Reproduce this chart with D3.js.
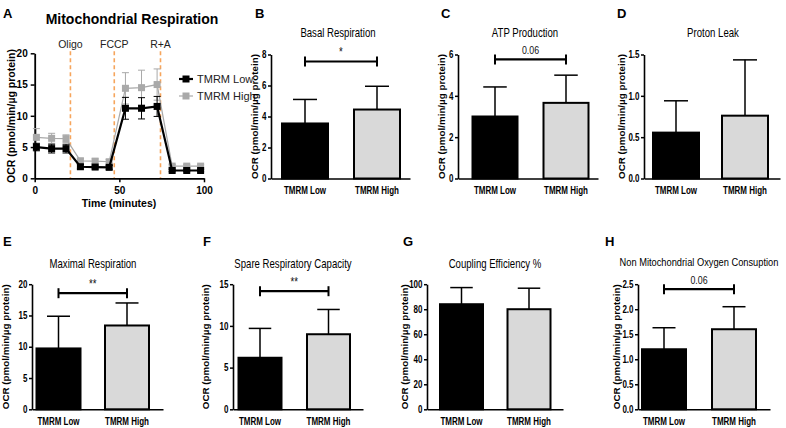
<!DOCTYPE html>
<html><head><meta charset="utf-8">
<script src="https://cdn.jsdelivr.net/npm/d3@7/dist/d3.min.js"></script>
<style>
body{margin:0;background:#fff;}
svg{display:block;}
.nar,.reg{font-family:"Liberation Sans",Arial,sans-serif;}
</style></head><body>
<svg id="c" width="786" height="428"></svg>
<script>
// ---------- Data ----------
const times = [1, 10, 18.5, 27, 35.7, 44, 53.6, 63.1, 72.3, 81.2, 89.8, 98];
const lowMean  = [5.0, 4.75, 4.75, 1.85, 1.8, 1.75, 11.2, 11.2, 11.5, 1.25, 1.25, 1.25];
const lowSD    = [0.6, 0.7, 0.7, 0.35, 0.3, 0.3, 1.75, 1.7, 1.6, 0.2, 0.2, 0.2];
const highMean = [6.55, 6.4, 6.35, 2.8, 2.75, 2.65, 14.4, 14.5, 15.0, 1.95, 1.95, 1.95];
const highSD   = [1.4, 0.8, 0.6, 0.4, 0.35, 0.35, 2.5, 2.8, 2.5, 0.25, 0.25, 0.25];
const injections = ["Oligo", "FCCP", "R+A"];
const injectionTimes = [21.1, 47, 74.3];
const timeTicks = [0, 50, 100];
const ocrTicks = [0, 5, 10, 15, 20];

const groups = ["TMRM Low", "TMRM High"];
const basalMean = [3.55, 4.45],  basalSD = [1.55, 1.5];
const atpMean = [3.0, 3.66],     atpSD = [1.43, 1.34];
const leakMean = [0.555, 0.76],  leakSD = [0.385, 0.675];
const maxMean = [9.73, 13.4],    maxSD = [5.15, 3.6];
const spareMean = [6.18, 9.0],   spareSD = [3.52, 2.97];
const couplingMean = [84, 80],   couplingSD = [13.3, 16.8];
const nonMitoMean = [1.2, 1.6],  nonMitoSD = [0.43, 0.45];

const basalTicks = [0, 2, 4, 6, 8];
const atpTicks = [0, 2, 4, 6];
const leakTicks = [0, 0.5, 1.0, 1.5];
const maxTicks = [0, 5, 10, 15, 20];
const spareTicks = [0, 5, 10, 15];
const couplingTicks = [0, 20, 40, 60, 80, 100];
const nonMitoTicks = [0, 0.5, 1.0, 1.5, 2.0, 2.5];

const basalSig = {label: "*", y: 7.55};
const atpSig = {label: "0.06", y: 5.76};
const maxSig = {label: "**", y: 18.56};
const spareSig = {label: "**", y: 14.16};
const nonMitoSig = {label: "0.06", y: 2.4};

const yLabel = "OCR (pmol/min/\u00b5g protein)";

// ---------- Drawing ----------
const svg = d3.select("#c");
// horizontally condense text about its anchor x (narrow-font look)
function condense(sel, k){
  sel.each(function(){
    const ax = +(this.getAttribute("x") || 0);
    d3.select(this).attr("transform", `translate(${ax*(1-k)},0) scale(${k},1)`);
  });
}

// Panel A
(function(){
  const g = svg.append("g");
  const x = d3.scaleLinear().domain([0, 100]).range([34.7, 204]);
  const y = d3.scaleLinear().domain([0, 20]).range([178.3, 53.3]);
  g.append("text").attr("class","reg").attr("x",3).attr("y",18).attr("font-size",13).attr("font-weight","bold").text("A");
  g.append("text").attr("class","reg").attr("x",132).attr("y",24).attr("text-anchor","middle").attr("font-size",14).attr("font-weight","bold").text("Mitochondrial Respiration");
  injectionTimes.forEach((t,i)=>{
    g.append("line").attr("x1",x(t)).attr("x2",x(t)).attr("y1",y(20)-2).attr("y2",y(0))
      .attr("stroke","#f6a55c").attr("stroke-width",1.6).attr("stroke-dasharray","4,3");
    g.append("text").attr("class","reg").attr("x",x(t)).attr("y",48).attr("text-anchor","middle").attr("font-size",10.5).attr("fill","#222").text(injections[i]);
  });
  const ax = g.append("g").attr("transform",`translate(0,${y(0)})`)
    .call(d3.axisBottom(x).tickValues(timeTicks).tickSize(4).tickSizeOuter(0));
  const ay = g.append("g").attr("transform",`translate(${x(0)},0)`)
    .call(d3.axisLeft(y).tickValues(ocrTicks).tickSize(4).tickSizeOuter(0));
  [ax, ay].forEach(a=>{
    a.select(".domain").attr("stroke","#000").attr("stroke-width",1.8);
    a.selectAll(".tick line").attr("stroke","#000").attr("stroke-width",1.5);
    a.selectAll("text").attr("class","reg").attr("font-size",10).attr("font-weight","bold").attr("fill","#000");
  });
  ax.selectAll("text").attr("dy","0.9em");
  g.append("text").attr("class","reg").attr("x",119).attr("y",207).attr("text-anchor","middle").attr("font-size",10.5).attr("font-weight","bold").text("Time (minutes)");
  g.append("text").attr("class","reg").attr("transform","translate(15,116) rotate(-90)").attr("text-anchor","middle").attr("font-size",10.5).attr("font-weight","bold").text(yLabel);

  function series(mean, sd, color, lw, msize){
    const pts = times.map((t,i)=>({t, m:mean[i], s:sd[i]}));
    const eg = g.append("g");
    pts.forEach(p=>{
      eg.append("line").attr("x1",x(p.t)).attr("x2",x(p.t)).attr("y1",y(p.m-p.s)).attr("y2",y(p.m+p.s)).attr("stroke",color).attr("stroke-width",1);
      [p.m-p.s, p.m+p.s].forEach(v=>eg.append("line").attr("x1",x(p.t)-3.5).attr("x2",x(p.t)+3.5).attr("y1",y(v)).attr("y2",y(v)).attr("stroke",color).attr("stroke-width",1));
    });
    g.append("path").datum(pts).attr("fill","none").attr("stroke",color).attr("stroke-width",lw)
      .attr("d",d3.line().x(d=>x(d.t)).y(d=>y(d.m)));
    g.selectAll(null).data(pts).enter().append("rect")
      .attr("x",d=>x(d.t)-msize/2).attr("y",d=>y(d.m)-msize/2).attr("width",msize).attr("height",msize).attr("fill",color);
  }
  series(highMean, highSD, "#a9a9a9", 1.2, 7);
  series(lowMean, lowSD, "#000", 2.2, 7);
  const leg = [{n:groups[0], c:"#000", lw:2.2, y:79},{n:groups[1], c:"#a9a9a9", lw:1.2, y:96}];
  leg.forEach(l=>{
    g.append("line").attr("x1",179).attr("x2",193).attr("y1",l.y).attr("y2",l.y).attr("stroke",l.c).attr("stroke-width",l.lw);
    g.append("rect").attr("x",182.5).attr("y",l.y-3.5).attr("width",7).attr("height",7).attr("fill",l.c);
    g.append("text").attr("class","reg").attr("x",197).attr("y",l.y+4).attr("font-size",11).attr("fill","#222").text(l.n);
  });
})();

// Bar panels
function barPanel(o){
  const g = svg.append("g");
  const L = o.x1 - o.x0, step = o.c2 - o.c1, pi = 1 - o.bw/step;
  const po = (L/step - 2 + pi)/2;
  const slack = L - step*(2-pi);
  const align = Math.max(0, Math.min(1, (o.c1 - o.bw/2 - o.x0)/slack));
  const x = d3.scaleBand().domain(groups).range([o.x0, o.x1]).paddingInner(pi).paddingOuter(po).align(align);
  const y = d3.scaleLinear().domain([0, o.ticks[o.ticks.length-1]]).range([o.y0, o.yTop]);
  const data = groups.map((k,i)=>({k, m:o.mean[i], s:o.sd[i]}));
  g.append("text").attr("class","reg").attr("x",o.letterX).attr("y",o.letterY).attr("font-size",13).attr("font-weight","bold").text(o.letter);
  const t = g.append("text").attr("class","nar").attr("x",o.titleX).attr("y",o.titleY).attr("text-anchor","middle").attr("font-size",o.titleSize||12).attr("fill","#000").text(o.title);
  condense(t, 0.8);
  data.forEach(d=>{
    const cx = x(d.k) + x.bandwidth()/2;
    g.append("line").attr("x1",cx).attr("x2",cx).attr("y1",y(d.m)).attr("y2",y(d.m+d.s)).attr("stroke","#000").attr("stroke-width",1.5);
    g.append("line").attr("x1",cx-x.bandwidth()/4).attr("x2",cx+x.bandwidth()/4).attr("y1",y(d.m+d.s)).attr("y2",y(d.m+d.s)).attr("stroke","#000").attr("stroke-width",1.5);
  });
  g.selectAll(null).data(data).enter().append("rect")
    .attr("x",d=>x(d.k)+1).attr("width",x.bandwidth()-2)
    .attr("y",d=>y(d.m)).attr("height",d=>y(0)-y(d.m))
    .attr("fill",(d,i)=>i===0?"#000":"#d9d9d9").attr("stroke","#000").attr("stroke-width",2);
  const ay = g.append("g").attr("transform",`translate(${o.x0},0)`)
    .call(d3.axisLeft(y).tickValues(o.ticks).tickSize(3).tickSizeOuter(0).tickFormat(o.fmt || d3.format("d")));
  const ax = g.append("g").attr("transform",`translate(0,${o.y0})`)
    .call(d3.axisBottom(x).tickSize(0).tickSizeOuter(0));
  [ax, ay].forEach(a=>{
    a.select(".domain").attr("stroke","#000").attr("stroke-width",1.6);
    a.selectAll(".tick line").attr("stroke","#000").attr("stroke-width",1.5);
    a.selectAll("text").attr("class","nar").attr("font-size",10).attr("font-weight","bold").attr("fill","#000");
  });
  ay.selectAll("text").attr("x",-4.5);
  ax.selectAll("text").attr("dy","1.3em");
  condense(ax.selectAll("text"), 0.8);
  condense(ay.selectAll("text"), 0.8);
  g.append("text").attr("class","reg").attr("transform",`translate(${o.labelX},${(o.y0+o.yTop)/2}) rotate(-90)`)
    .attr("text-anchor","middle").attr("font-size",9.8).attr("font-weight","bold").text(yLabel);
  if (o.sig){
    const a = x(groups[0]) + x.bandwidth()/2, b = x(groups[1]) + x.bandwidth()/2, yy = y(o.sig.y);
    g.append("line").attr("x1",a).attr("x2",b).attr("y1",yy).attr("y2",yy).attr("stroke","#000").attr("stroke-width",2.2);
    [a,b].forEach(v=>g.append("line").attr("x1",v).attr("x2",v).attr("y1",yy-5).attr("y2",yy+5).attr("stroke","#000").attr("stroke-width",2));
    const s = g.append("text").attr("class","nar").attr("x",(a+b)/2).attr("y",yy-5).attr("text-anchor","middle")
      .attr("font-size",o.sig.label==="0.06"?11:12).attr("fill","#111").text(o.sig.label);
    condense(s, 0.8);
  }
}
const f1 = d3.format(".1f");
const topY0 = 178.5, topYT = 54.5, botY0 = 409.3, botYT = 284.2;
barPanel({letter:"B",letterX:255,letterY:18,title:"Basal Respiration",titleX:338,titleY:37,x0:271,x1:410,c1:305,c2:377,bw:48,y0:topY0,yTop:topYT,mean:basalMean,sd:basalSD,ticks:basalTicks,sig:basalSig,labelX:258});
barPanel({letter:"C",letterX:441,letterY:18,title:"ATP Production",titleX:525,titleY:37,x0:458,x1:598,c1:495,c2:566,bw:47,y0:topY0,yTop:topYT,mean:atpMean,sd:atpSD,ticks:atpTicks,sig:atpSig,labelX:445});
barPanel({letter:"D",letterX:617,letterY:18,title:"Proton Leak",titleX:713,titleY:37,x0:644,x1:780,c1:676,c2:745,bw:48,y0:topY0,yTop:topYT,mean:leakMean,sd:leakSD,ticks:leakTicks,fmt:f1,labelX:625});
barPanel({letter:"E",letterX:3,letterY:246,title:"Maximal Respiration",titleX:93,titleY:268,x0:32,x1:163,c1:58.5,c2:127,bw:46,y0:botY0,yTop:botYT,mean:maxMean,sd:maxSD,ticks:maxTicks,sig:maxSig,labelX:9});
barPanel({letter:"F",letterX:203,letterY:246,title:"Spare Respiratory Capacity",titleX:293,titleY:268,x0:233,x1:363,c1:260,c2:328.5,bw:45,y0:botY0,yTop:botYT,mean:spareMean,sd:spareSD,ticks:spareTicks,sig:spareSig,labelX:209});
barPanel({letter:"G",letterX:403,letterY:246,title:"Coupling Efficiency %",titleX:495,titleY:268,x0:427,x1:563,c1:461.5,c2:529,bw:45,y0:botY0,yTop:botYT,mean:couplingMean,sd:couplingSD,ticks:couplingTicks,labelX:408});
barPanel({letter:"H",letterX:605,letterY:246,title:"Non Mitochondrial Oxygen Consuption",titleSize:11.6,titleX:699,titleY:266,x0:638,x1:770,c1:664,c2:734,bw:46,y0:botY0,yTop:botYT,mean:nonMitoMean,sd:nonMitoSD,ticks:nonMitoTicks,fmt:f1,sig:nonMitoSig,labelX:620});
</script></body></html>
